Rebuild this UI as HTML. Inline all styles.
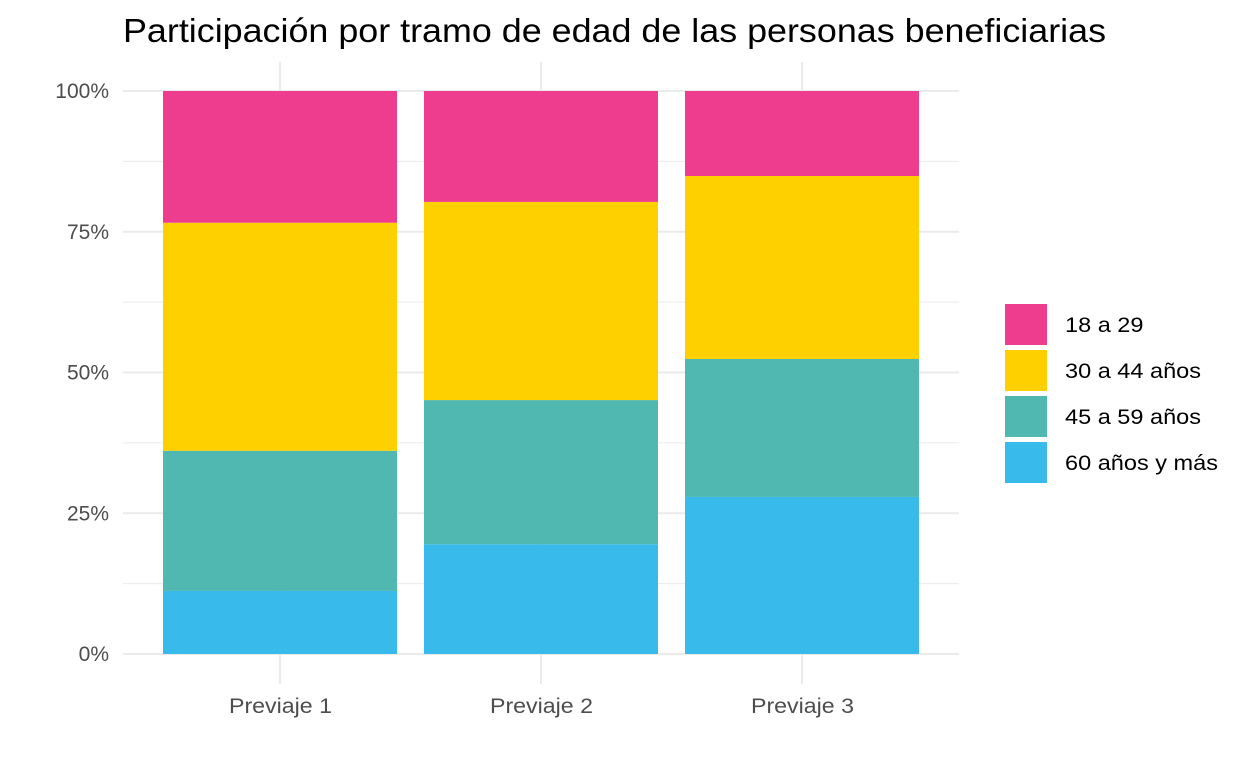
<!DOCTYPE html>
<html><head><meta charset="utf-8"><style>
body{margin:0;background:#fff;font-family:"Liberation Sans",sans-serif}
svg text{font-family:"Liberation Sans",sans-serif}
</style></head><body>
<svg id="chart" width="1248" height="768" xmlns="http://www.w3.org/2000/svg">
<text x="123" y="42" font-size="33" textLength="983" lengthAdjust="spacingAndGlyphs" fill="#000">Participación por tramo de edad de las personas beneficiarias</text>
<g id="grid"></g><g id="bars"></g><g id="axes"></g><g id="legend"></g>
</svg>
<script>
const categories=["Previaje 1","Previaje 2","Previaje 3"];
const seriesNames=["60 años y más","45 a 59 años","30 a 44 años","18 a 29"];
const colors=["#38BAEB","#50B8B1","#FFD000","#EE3D8E"];
const s60=[11.2,19.5,27.9];
const s45=[24.9,25.6,24.5];
const s30=[40.5,35.2,32.5];
const s18=[23.4,19.7,15.1];
const yTicks=[0,25,50,75,100];
const yTickLabels=["0%","25%","50%","75%","100%"];
const legendOrder=["18 a 29","30 a 44 años","45 a 59 años","60 años y más"];
const NS="http://www.w3.org/2000/svg";
const y0=654,y1=91,xL=123,xR=959;
const y=v=>y0-(v/100)*(y0-y1);
const band=261,first=280;
const xc=i=>first+i*band;
const bw=234;
function mk(tag,attrs,parent){const e=document.createElementNS(NS,tag);for(const k in attrs)e.setAttribute(k,attrs[k]);parent.appendChild(e);return e;}
const grid=document.getElementById('grid');
for(let i=0;i<yTicks.length;i++){
 const l=mk('line',{x1:xL,x2:xR,y1:y(yTicks[i]),y2:y(yTicks[i]),stroke:'#ebebeb','stroke-width':2},grid);
 
 
 if(i<yTicks.length-1){const m=(yTicks[i]+yTicks[i+1])/2;
  const l2=mk('line',{x1:xL,x2:xR,y1:y(m),y2:y(m),stroke:'#ebebeb','stroke-width':1},grid);
  
  }
}
categories.forEach((c,i)=>{
 const l=mk('line',{x1:xc(i),x2:xc(i),y1:62,y2:684,stroke:'#ebebeb','stroke-width':2},grid);
 
 
});
const series=[s60,s45,s30,s18];
const bars=document.getElementById('bars');
categories.forEach((c,i)=>{
 let cum=0;
 series.forEach((s,j)=>{
  const r=mk('rect',{x:xc(i)-bw/2,y:y(cum+s[i]),width:bw,height:y(cum)-y(cum+s[i]),fill:colors[j]},bars);
  
  
  cum+=s[i];
 });
});
const axes=document.getElementById('axes');
yTicks.forEach((t,i)=>{
 const tx=mk('text',{x:109,y:y(t)+7,'text-anchor':'end','font-size':21,fill:'#4d4d4d'},axes);
 tx.textContent=yTickLabels[i];
 
 
});
categories.forEach((c,i)=>{
 const tx=mk('text',{x:xc(i)-51,y:713,'font-size':21,fill:'#4d4d4d',textLength:103,lengthAdjust:'spacingAndGlyphs'},axes);
 tx.textContent=c;
 
 
});
const leg=document.getElementById('legend');
legendOrder.forEach((n,k)=>{
 const col=colors[seriesNames.indexOf(n)];
 const r=mk('rect',{x:1005,y:304+k*46,width:42,height:41,fill:col},leg);
 
 
 const t=mk('text',{x:1065,y:332+k*46,'font-size':21,fill:'#000'},leg);
 t.textContent=n;
 
 
 const w=t.getComputedTextLength();
 t.setAttribute('textLength',w*1.12);
 t.setAttribute('lengthAdjust','spacingAndGlyphs');
});
</script>
</body></html>
